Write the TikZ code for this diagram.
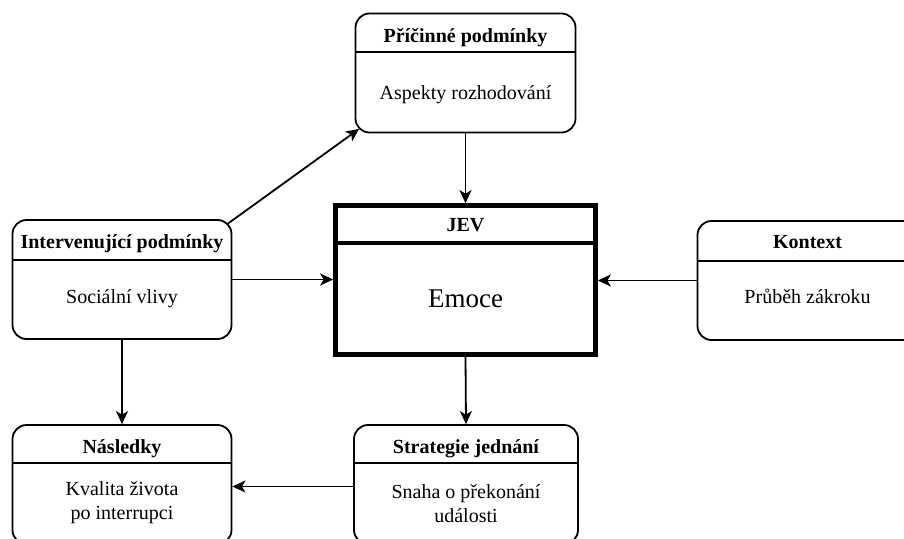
\documentclass[tikz,border=0pt]{standalone}
\usepackage{fontspec}
\setmainfont{Liberation Serif}
\usetikzlibrary{arrows.meta,calc}
\begin{document}
\begin{tikzpicture}[x=1pt,y=-1pt,
 box/.style={draw, line width=1.8pt, rounded corners=14pt, minimum height=119pt, inner sep=0pt},
 jevbox/.style={draw, line width=4.7pt, minimum width=260pt, minimum height=149pt, inner sep=0pt},
 head/.style={font=\fontsize{20}{24}\selectfont\bfseries, inner sep=0pt, anchor=base},
 body/.style={font=\fontsize{20}{24}\selectfont, align=center, inner sep=0pt},
 bodyone/.style={font=\fontsize{20}{24}\selectfont, inner sep=0pt, anchor=base},
 arr/.style={line width=1.8pt, -{Stealth[length=13pt,width=12pt,inset=3.5pt]}},
 sep/.style={line width=1.8pt}]
\useasboundingbox (0,0) rectangle (904,538);
\clip (0,0) rectangle (904,538);
% boxes
\node[box, minimum width=220pt] (pric) at (465.5,73) {};
\node[box, minimum width=219pt] (interv) at (122,279.5) {};
\node[box, minimum width=220pt] (kont) at (807.5,280.5) {};
\node[box, minimum width=219pt] (nasl) at (122,484.5) {};
\node[box, minimum width=224pt] (strat) at (466,484.5) {};
\node[jevbox] (jev) at (465.5,280) {};
% header separators
\draw[sep] (pric.west |- 0,52) -- (pric.east |- 0,52);
\draw[sep] (interv.west |- 0,260) -- (interv.east |- 0,260);
\draw[sep] (kont.west |- 0,261) -- (kont.east |- 0,261);
\draw[sep] (nasl.west |- 0,463) -- (nasl.east |- 0,463);
\draw[sep] (strat.west |- 0,463) -- (strat.east |- 0,463);
\draw[line width=4.7pt] (jev.west |- 0,243) -- (jev.east |- 0,243);
% texts
\node[head] (pricH) at (465.5,42.5) {Příčinné podmínky};
\node[bodyone] (pricB) at (465.5,99) {Aspekty rozhodování};
\node[head] (intervH) at (122,248) {Intervenující podmínky};
\node[bodyone] (intervB) at (122,303) {Sociální vlivy};
\node[head] (kontH) at (807.5,248) {Kontext};
\node[bodyone] (kontB) at (807.5,303) {Průběh zákroku};
\node[head] (naslH) at (122,453) {Následky};
\node[body] (naslB) at (122,503) {Kvalita života\\po interrupci};
\node[head] (stratH) at (466,453) {Strategie jednání};
\node[body] (stratB) at (466,504) {Snaha o překonání\\události};
\node[head] (jevH) at (465.5,231) {JEV};
\node[font=\fontsize{27}{32}\selectfont, inner sep=0pt, anchor=base] (jevB) at (465.5,307) {Emoce};
% connectors
\draw[arr] ($(interv.north east)+(-4.5,4.5)$) -- ($(pric.south west)+(4.5,-4.5)$);
\draw[arr] (pric.south) -- (jev.north);
\draw[arr] (interv.east) -- (jev.west |- interv.east);
\draw[arr] (kont.west) -- (jev.east |- kont.west);
\draw[arr] (jev.south) -- (strat.north);
\draw[arr] (interv.south) -- (nasl.north);
\draw[arr] ($(strat.west)+(0,2)$) -- ($(nasl.east)+(0,2)$);
\end{tikzpicture}
\end{document}
